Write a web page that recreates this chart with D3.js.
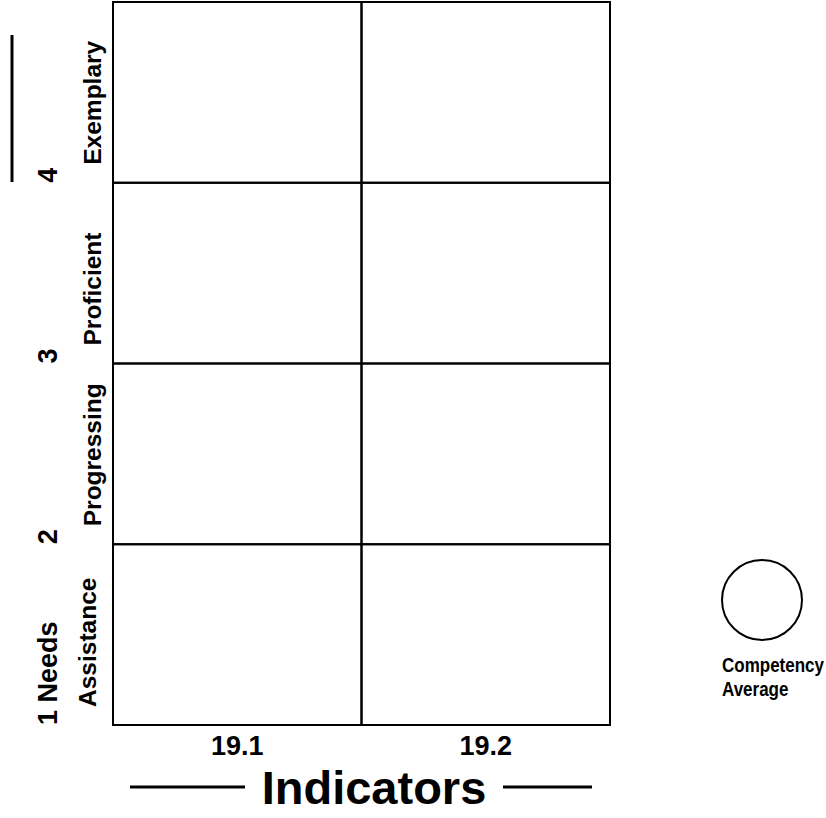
<!DOCTYPE html>
<html>
<head>
<meta charset="utf-8">
<script src="https://cdn.jsdelivr.net/npm/d3@7/dist/d3.min.js"></script>
<style>
  html, body { margin: 0; padding: 0; background: #fff; }
  svg { display: block; }
  text { font-family: "Liberation Sans", Arial, sans-serif; font-weight: bold; fill: #000; }
</style>
</head>
<body>
<svg id="chart" width="826" height="818"></svg>
<script>
// ---- data ----
const indicators = ["19.1", "19.2"];
const levels = ["1", "2", "3", "4"];
const levelLine1 = ["1 Needs", "2", "3", "4"];
const levelLine2 = ["Assistance", "Progressing", "Proficient", "Exemplary"];
const competencyAverages = []; // no averages plotted in the reference
const xTitle = "Indicators";
const legendLabel = ["Competency", "Average"];

// ---- layout ----
const svg = d3.select("#chart");
const plot = { left: 113, right: 610, top: 2, bottom: 725 };

const x = d3.scaleBand().domain(indicators).range([plot.left, plot.right]).padding(0);
const y = d3.scaleBand().domain(levels).range([plot.bottom, plot.top]).padding(0);

// grid cells
const cells = [];
indicators.forEach(ind => levels.forEach(l => cells.push({ ind, l })));
svg.append("g").selectAll("rect").data(cells).join("rect")
  .attr("x", d => x(d.ind))
  .attr("y", d => y(d.l))
  .attr("width", x.bandwidth())
  .attr("height", y.bandwidth())
  .attr("fill", "none")
  .attr("stroke", "#000")
  .attr("stroke-width", 2);

// y labels (rotated, two lines)
const yl = svg.append("g");
levels.forEach((l, i) => {
  const bottom = y(l) + y.bandwidth();
  yl.append("text")
    .attr("transform", `translate(57,${bottom}) rotate(-90)`)
    .attr("text-anchor", "start")
    .attr("font-size", 27)
    .text(levelLine1[i]);
  const bx = i === 0 ? 96 : 101;
  yl.append("text")
    .attr("transform", `translate(${bx},${bottom - 18}) rotate(-90)`)
    .attr("text-anchor", "start")
    .attr("font-size", 24.5)
    .text(levelLine2[i]);
});

// left decorative line (y title rule)
svg.append("line")
  .attr("x1", 12).attr("x2", 12)
  .attr("y1", 35).attr("y2", 182)
  .attr("stroke", "#000").attr("stroke-width", 3);

// x axis tick labels
const xAxis = svg.append("g")
  .attr("transform", `translate(0,${plot.bottom})`)
  .call(d3.axisBottom(x).tickSize(0).tickPadding(0));
xAxis.select(".domain").remove();
xAxis.selectAll("text")
  .attr("y", 30).attr("dy", 0)
  .attr("font-size", 27)
  .style("font-family", "'Liberation Sans', Arial, sans-serif")
  .style("font-weight", "bold")
  .attr("fill", "#000");

// x title with rules
svg.append("text")
  .attr("x", 374).attr("y", 804)
  .attr("text-anchor", "middle")
  .attr("font-size", 47)
  .text(xTitle);
svg.append("line")
  .attr("x1", 130).attr("x2", 245)
  .attr("y1", 787).attr("y2", 787)
  .attr("stroke", "#000").attr("stroke-width", 3);
svg.append("line")
  .attr("x1", 503).attr("x2", 592)
  .attr("y1", 787).attr("y2", 787)
  .attr("stroke", "#000").attr("stroke-width", 3);

// competency average markers (none in the reference)
svg.append("g").selectAll("circle").data(competencyAverages).join("circle")
  .attr("cx", d => x(d.ind) + x.bandwidth() / 2)
  .attr("cy", d => y("1") + y.bandwidth())
  .attr("r", 10).attr("fill", "none").attr("stroke", "#000");

// legend
const lg = svg.append("g");
lg.append("circle")
  .attr("cx", 762).attr("cy", 600).attr("r", 40)
  .attr("fill", "none").attr("stroke", "#000").attr("stroke-width", 2);
legendLabel.forEach((t, i) => {
  lg.append("text")
    .attr("transform", `translate(722,${672 + i * 24}) scale(1,1.2)`)
    .attr("font-size", 17)
    .text(t);
});
</script>
</body>
</html>
